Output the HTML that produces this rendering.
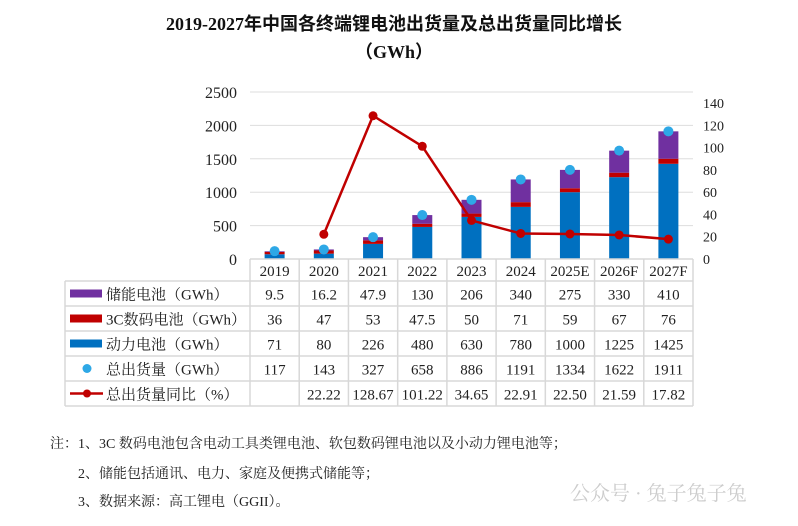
<!DOCTYPE html>
<html><head><meta charset="utf-8"><style>
body{margin:0;background:#fff;width:798px;height:521px;overflow:hidden}
svg text{font-family:"Liberation Serif","Noto Serif CJK SC",serif}
svg text.tt{font-family:"Liberation Serif","Noto Sans CJK SC",sans-serif}
</style></head><body>
<svg id="c" width="798" height="521" xmlns="http://www.w3.org/2000/svg">
<text class="tt" x="394" y="30" text-anchor="middle" font-size="18" font-weight="bold" fill="#111">2019-2027年中国各终端锂电池出货量及总出货量同比增长</text>
<text class="tt" x="394" y="58" text-anchor="middle" font-size="18" font-weight="bold" fill="#111">（GWh）</text>
<text x="50" y="448" font-size="14" fill="#222">注：1、3C 数码电池包含电动工具类锂电池、软包数码锂电池以及小动力锂电池等；</text>
<text x="78" y="478" font-size="14" fill="#222">2、储能包括通讯、电力、家庭及便携式储能等；</text>
<text x="78" y="506" font-size="14" fill="#222">3、数据来源：高工锂电（GGII）。</text>
<text x="570" y="500" font-size="20" fill="#ccc" font-family="Liberation Sans,Noto Sans CJK SC,sans-serif">公众号 · 兔子兔子兔</text>
</svg>
<script>
const categories=["2019","2020","2021","2022","2023","2024","2025E","2026F","2027F"];
const storage=[9.5,16.2,47.9,130,206,340,275,330,410];
const digital=[36,47,53,47.5,50,71,59,67,76];
const power=[71,80,226,480,630,780,1000,1225,1425];
const total=[117,143,327,658,886,1191,1334,1622,1911];
const yoy=[null,22.22,128.67,101.22,34.65,22.91,22.50,21.59,17.82];
const leftTicks=[0,500,1000,1500,2000,2500];
const rightTicks=[0,20,40,60,80,100,120,140];
const svg=document.getElementById('c');
const NS='http://www.w3.org/2000/svg';
const X0=250,X1=693,Y0=259,YT=92;
const cw=(X1-X0)/categories.length;
const yL=v=>Y0-(v/2500)*(Y0-YT);
const yR=v=>Y0-(v/150)*(Y0-YT);
const xC=i=>X0+cw*(i+0.5);
function mk(t,a,txt){const e=document.createElementNS(NS,t);for(const k in a)e.setAttribute(k,a[k]);if(txt!==undefined)e.textContent=txt;svg.appendChild(e);return e;}
leftTicks.forEach(v=>{
  if(v>0){const g=mk('line',{x1:X0,x2:X1,y1:yL(v),y2:yL(v),stroke:'#ddd','stroke-width':1});
  
  }
  const t=mk('text',{x:237,y:yL(v)+6,'text-anchor':'end','font-size':16,fill:'#222'},v);
  
  
});
rightTicks.forEach(v=>{
  const t=mk('text',{x:703,y:yR(v)+5,'font-size':14,fill:'#222'},v);
  
  
});
const bw=20;
categories.forEach((c,i)=>{
  const x=xC(i)-bw/2;
  let base=0;
  [[power,'#0070C0','bar-power'],[digital,'#C00000','bar-3c'],[storage,'#7030A0','bar-storage']].forEach(([arr,col,nm])=>{
    const v=arr[i];
    const r=mk('rect',{x:x,y:yL(base+v),width:bw,height:yL(base)-yL(base+v),fill:col});
    
    
    base+=v;
  });
});
categories.forEach((c,i)=>{
  const p=mk('circle',{cx:xC(i),cy:yL(total[i]),r:5,fill:'#2EA8E6'});
  
  
});
let d='';
yoy.forEach((v,i)=>{if(v!==null)d+=(d?'L':'M')+xC(i)+','+yR(v);});
const ln=mk('path',{d:d,fill:'none',stroke:'#C00000','stroke-width':2.5});


yoy.forEach((v,i)=>{if(v===null)return;
  const p=mk('circle',{cx:xC(i),cy:yR(v),r:4.5,fill:'#C00000'});
  
  
});
const rowsY=[259,281,306,331,356,381,406];
const TL=65;
const gs={stroke:'#d8d8d8','stroke-width':1.5};
mk('line',Object.assign({x1:X0,x2:X1,y1:259,y2:259},gs));
for(let k=1;k<rowsY.length;k++)mk('line',Object.assign({x1:TL,x2:X1,y1:rowsY[k],y2:rowsY[k]},gs));
mk('line',Object.assign({x1:TL,x2:TL,y1:281,y2:406},gs));
for(let i=0;i<=categories.length;i++)mk('line',Object.assign({x1:X0+cw*i,x2:X0+cw*i,y1:259,y2:406},gs));
categories.forEach((c,i)=>{
  const t=mk('text',{x:xC(i),y:276,'text-anchor':'middle','font-size':15,fill:'#222'},c);
  
  
});
const rowLabels=['储能电池（GWh）','3C数码电池（GWh）','动力电池（GWh）','总出货量（GWh）','总出货量同比（%）'];
const rowData=[storage,digital,power,total,yoy];
rowLabels.forEach((lab,r)=>{
  const cy=(rowsY[r+1]+rowsY[r+2])/2;
  const t=mk('text',{x:106,y:cy+6,'font-size':15,fill:'#222'},lab);
  
  
  rowData[r].forEach((v,i)=>{
    if(v===null)return;
    const s=r===4?v.toFixed(2):String(v);
    const tt=mk('text',{x:xC(i),y:cy+6,'text-anchor':'middle','font-size':15,fill:'#222'},s);
    
    
  });
});
const cols=['#7030A0','#C00000','#0070C0'];
cols.forEach((c,r)=>{
  const cy=(rowsY[r+1]+rowsY[r+2])/2;
  const k=mk('rect',{x:70,y:cy-4,width:32,height:8,fill:c});
  
  
});
let cy=(rowsY[4]+rowsY[5])/2;
const k1=mk('circle',{cx:87,cy:cy,r:4.5,fill:'#2EA8E6'});


cy=(rowsY[5]+rowsY[6])/2;
mk('line',{x1:70,x2:103,y1:cy,y2:cy,stroke:'#C00000','stroke-width':2.5});
const k2=mk('circle',{cx:87,cy:cy,r:4,fill:'#C00000'});


</script>
</body></html>
